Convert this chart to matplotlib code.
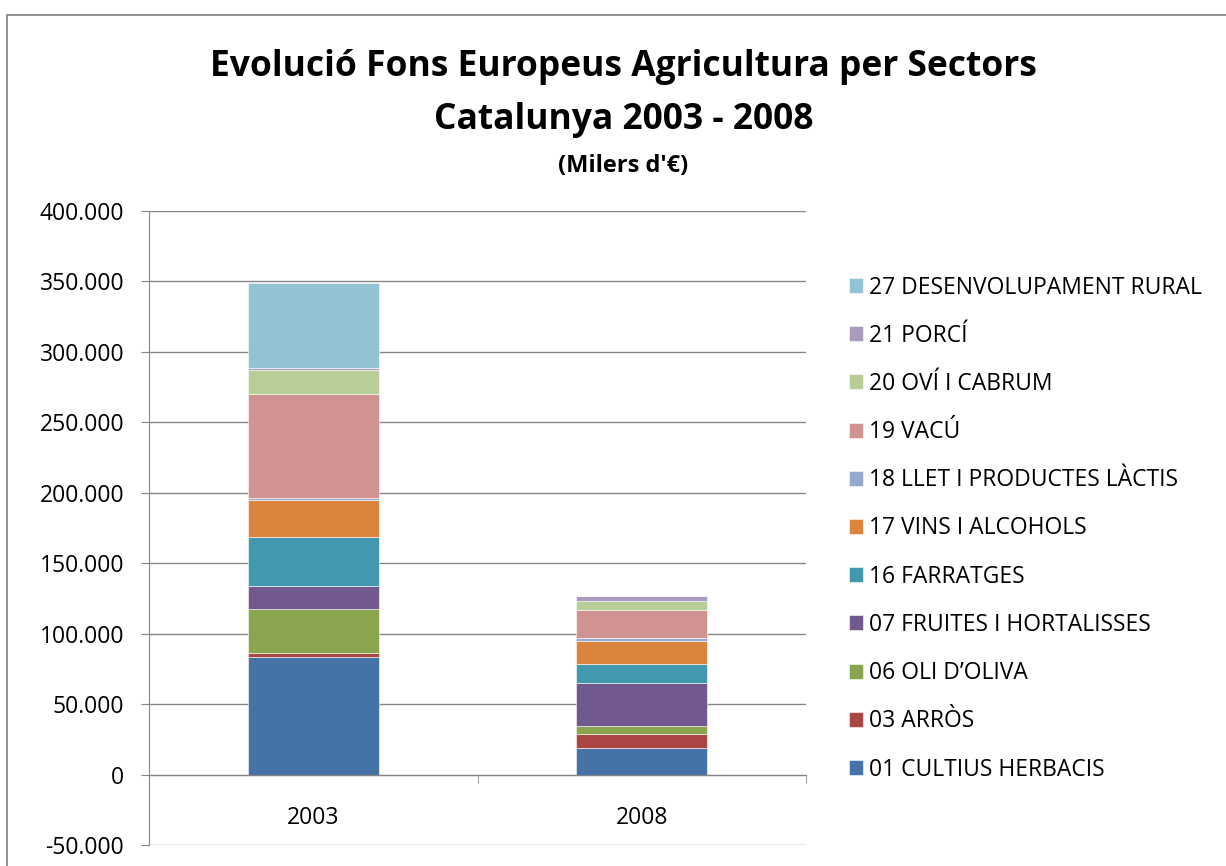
import numpy as np
import matplotlib.pyplot as plt
from matplotlib.patches import Rectangle
from matplotlib.ticker import FuncFormatter, FixedLocator

plt.rcParams['font.family'] = ['Open Sans', 'DejaVu Sans']

years = ['2003', '2008']
sectors = ['01 CULTIUS HERBACIS', '03 ARRÒS', '06 OLI D\u2019OLIVA',
           '07 FRUITES I HORTALISSES', '16 FARRATGES', '17 VINS I ALCOHOLS',
           '18 LLET I PRODUCTES LÀCTIS', '19 VACÚ', '20 OVÍ I CABRUM',
           '21 PORCÍ', '27 DESENVOLUPAMENT RURAL']
vals_2003 = [83600, 2800, 30800, 16800, 34300, 26500, 1700, 73900, 16600, 1700, 60400]
vals_2008 = [19000, 9500, 5700, 30800, 13200, 16800, 1700, 19900, 6600, 3600, 0]
colors = ['#4572A7', '#AA4643', '#89A54E', '#71588F', '#4198AF', '#DB843D',
          '#93A9CF', '#D19392', '#B9CD96', '#A99BBD', '#92C3D4']

W, H = 1226, 866
fig = plt.figure(figsize=(W / 100, H / 100), dpi=100)

# outer chart border
fig.patches.append(Rectangle((7 / W, -0.1), 1.2, 1 - 15 / H + 0.1, transform=fig.transFigure,
                             fill=False, edgecolor='#888888', lw=1.3, zorder=0))

ax = fig.add_axes([149 / W, (H - 845) / H, (806 - 149) / W, (845 - 211) / H])

x = np.arange(len(years))
bottom = np.zeros(len(years))
handles = []
for i, name in enumerate(sectors):
    v = np.array([vals_2003[i], vals_2008[i]], dtype=float)
    b = ax.bar(x, v, width=0.4, bottom=bottom, color=colors[i], edgecolor='white',
               linewidth=0.4, label=name, zorder=3)
    handles.append(b)
    bottom += v

ax.set_xlim(-0.5, 1.5)
ax.set_ylim(-50000, 400000)
ax.set_yticks(np.arange(-50000, 400001, 50000))
ax.yaxis.set_major_formatter(FuncFormatter(lambda v, p: '{:,.0f}'.format(v).replace(',', '.')))
ax.grid(axis='y', color='#868686', lw=1, zorder=0)
ax.tick_params(axis='y', length=5.8, color='#868686', labelsize=16.5, pad=12)

ax.spines['top'].set_visible(False)
ax.spines['right'].set_visible(False)
ax.spines['left'].set_color('#868686')
ax.spines['bottom'].set_position(('data', 0))
ax.spines['bottom'].set_color('#868686')
ax.spines['bottom'].set_zorder(4)

ax.set_xticks(x)
ax.set_xticklabels(years)
ax.xaxis.set_minor_locator(FixedLocator([-0.5, 0.5, 1.5]))
ax.tick_params(axis='x', which='major', length=0, labelsize=16.5, pad=23)
ax.tick_params(axis='x', which='minor', length=6, color='#868686')

leg = fig.legend(handles[::-1], sectors[::-1], loc='upper left',
                 bbox_to_anchor=(849 / W, 1 - 275.5 / H), frameon=False,
                 fontsize=16.5, handlelength=0.63, handleheight=0.63,
                 handletextpad=0.26, labelspacing=1.056, borderaxespad=0, borderpad=0)

fig.text(623.5 / W, 1 - 76 / H, 'Evolució Fons Europeus Agricultura per Sectors',
         ha='center', va='baseline', fontsize=25.5, fontweight='bold')
fig.text(623.5 / W, 1 - 129 / H, 'Catalunya 2003 - 2008',
         ha='center', va='baseline', fontsize=25.5, fontweight='bold')
fig.text(623.5 / W, 1 - 172 / H, "(Milers d'€)",
         ha='center', va='baseline', fontsize=17, fontweight='bold')

fig.savefig('out.png', dpi=100)
